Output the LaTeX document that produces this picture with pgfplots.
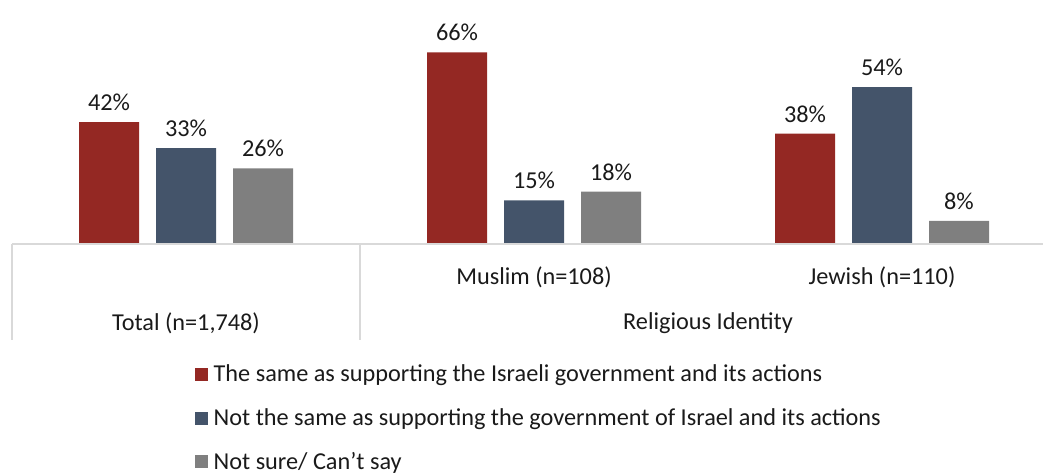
\documentclass[border=0pt]{standalone}
\usepackage{fontspec}
\setmainfont{Carlito}
\usepackage{pgfplots}
\pgfplotsset{compat=1.18}
\definecolor{cRed}{HTML}{942823}
\definecolor{cBlue}{HTML}{44546A}
\definecolor{cGray}{HTML}{7F7F7F}
\definecolor{cLine}{HTML}{D9D9D9}
\definecolor{cText}{HTML}{1A1A1A}
\begin{document}
\begin{tikzpicture}
\useasboundingbox (0,0) rectangle (782.25pt,355.5pt);
\begin{axis}[
  at={(9pt,172.5pt)}, anchor=south west,
  scale only axis, width=773.25pt, height=183pt,
  xmin=-0.5, xmax=2.4626, ymin=0, ymax=84,
  ybar, bar width=45pt,
  axis line style={draw=none},
  xtick=\empty, ytick=\empty,
  clip=false,
  /pgf/number format/assume math mode=true,
  nodes near coords={\pgfmathprintnumber{\pgfplotspointmeta}\%},
  every node near coord/.append style={font=\fontsize{18.2}{21}\selectfont, text=cText, yshift=5pt},
  legend style={draw=none, at={(0.1775,-0.484)}, anchor=north west,
    font=\fontsize{18.2}{21}\selectfont, text=cText, row sep=14.6pt, inner sep=0pt,
    cells={anchor=west}},
  legend cell align=left,
  legend image code/.code={\fill[#1] (0pt,-4.9pt) rectangle (9.8pt,4.9pt);},
]
\addplot[fill=cRed, draw=none, bar shift=-57.75pt] coordinates {(0,42) (1,66) (2,38)};
\addplot[fill=cBlue, draw=none, bar shift=0pt] coordinates {(0,33) (1,15) (2,54)};
\addplot[fill=cGray, draw=none, bar shift=57.75pt] coordinates {(0,26) (1,18) (2,8)};
\legend{\hspace{2pt}The same as supporting the Israeli government and its actions,
        \hspace{2pt}Not the same as supporting the government of Israel and its actions,
        \hspace{2pt}Not sure/ Can’t say}
\draw[cLine, line width=1.2pt] (rel axis cs:0,0) -- (rel axis cs:1,0);
\draw[cLine, line width=1.2pt] (axis cs:-0.5,0) -- ([yshift=-72pt]axis cs:-0.5,0);
\draw[cLine, line width=1.2pt] (axis cs:0.5,0) -- ([yshift=-72pt]axis cs:0.5,0);
\node[font=\fontsize{18.2}{21}\selectfont, text=cText] at ([yshift=-24.75pt]axis cs:1,0) {Muslim (n=108)};
\node[font=\fontsize{18.2}{21}\selectfont, text=cText] at ([yshift=-24.75pt]axis cs:2,0) {Jewish (n=110)};
\node[font=\fontsize{18.2}{21}\selectfont, text=cText] at ([yshift=-59.25pt]axis cs:0,0) {Total (n=1,748)};
\node[font=\fontsize{18.2}{21}\selectfont, text=cText] at ([yshift=-59.25pt]axis cs:1.5,0) {Religious Identity};
\end{axis}
\end{tikzpicture}
\end{document}
